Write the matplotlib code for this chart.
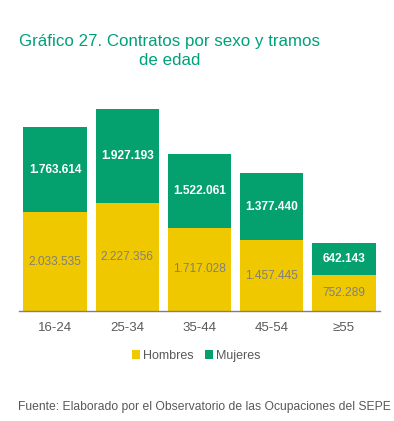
import matplotlib
matplotlib.use("Agg")
import matplotlib.pyplot as plt
from matplotlib.patches import Patch

plt.rcParams['font.family'] = ['Liberation Sans', 'DejaVu Sans']

categories = ["16-24", "25-34", "35-44", "45-54", "≥55"]
hombres = [2033535, 2227356, 1717028, 1457445, 752289]
mujeres = [1763614, 1927193, 1522061, 1377440, 642143]

def fmt(v):
    return f"{v:,}".replace(",", ".")

YEL = "#F0C800"
GRN = "#04A06E"
GRAY = "#595959"

fig = plt.figure(figsize=(3.94, 4.21), dpi=100)
ax = fig.add_axes([19/394, 1 - 311/421, (380-19)/394, (311-100)/421])

x = range(len(categories))
b1 = ax.bar(x, hombres, width=0.88, color=YEL, edgecolor="none")
b2 = ax.bar(x, mujeres, bottom=hombres, width=0.88, color=GRN, edgecolor="none")

for i, (h, m) in enumerate(zip(hombres, mujeres)):
    ax.text(i, h / 2, fmt(h), ha="center", va="center", color="#7F7F7F", fontsize=8.6)
    ax.text(i, h + m / 2, fmt(m), ha="center", va="center", color="white", fontsize=8.6, fontweight="bold")

ax.set_xlim(-0.5, len(categories) - 0.5)
ax.set_ylim(0, 4.35e6)
ax.set_yticks([])
for s in ["top", "right", "left"]:
    ax.spines[s].set_visible(False)
ax.spines["bottom"].set_color("#808080")
ax.spines["bottom"].set_linewidth(1.0)
ax.set_xticks(list(x))
ax.set_xticklabels(categories, color=GRAY, fontsize=9.5)
ax.tick_params(axis="x", length=0, pad=8)

fig.text(169.5/394, 1 - 51/421, "Gráfico 27. Contratos por sexo y tramos\nde edad", ha="center", va="center",
         multialignment="center", color="#00A07A", fontsize=12.2, linespacing=1.35)

handles = [Patch(facecolor=YEL, label="Hombres"), Patch(facecolor=GRN, label="Mujeres")]
fig.legend(handles=handles, loc="center", bbox_to_anchor=(196/394, 1 - 356/421), ncol=2, frameon=False,
           fontsize=9, handlelength=0.7, handleheight=0.7, handletextpad=0.2, columnspacing=0.9,
           labelcolor=GRAY)

fig.text(18/394, 1 - 407/421, "Fuente: Elaborado por el Observatorio de las Ocupaciones del SEPE",
         ha="left", va="center", color=GRAY, fontsize=8.7)

fig.savefig("out.png", dpi=100)
